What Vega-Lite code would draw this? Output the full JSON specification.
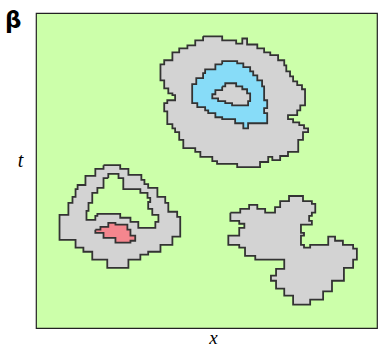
{
 "$schema": "https://vega.github.io/schema/vega-lite/v6.json",
 "width": 341, "height": 315,
 "autosize": {"type": "none"},
 "padding": {"left": 36, "top": 13, "right": 1, "bottom": 19},
 "title": {"text": "β", "anchor": "start", "frame": "group", "font": "DejaVu Sans", "fontSize": 23, "fontWeight": "bold", "color": "black", "baseline": "alphabetic", "offset": -26, "dx": -31, "dy": 12},
 "datasets": {
  "pts": [
   {"p":"A","i":1,"x":49.0,"y":7.4},{"p":"A","i":2,"x":54.6,"y":7.4},{"p":"A","i":3,"x":54.6,"y":8.7},{"p":"A","i":4,"x":58.7,"y":8.7},{"p":"A","i":5,"x":58.7,"y":9.7},{"p":"A","i":6,"x":60.5,"y":9.7},{"p":"A","i":7,"x":60.5,"y":8.1},{"p":"A","i":8,"x":61.9,"y":8.1},{"p":"A","i":9,"x":61.9,"y":10.0},{"p":"A","i":10,"x":64.9,"y":10.0},
   {"p":"A","i":11,"x":64.9,"y":11.2},{"p":"A","i":12,"x":66.9,"y":11.2},{"p":"A","i":13,"x":66.9,"y":12.5},{"p":"A","i":14,"x":68.7,"y":12.5},{"p":"A","i":15,"x":68.7,"y":13.4},{"p":"A","i":16,"x":71.0,"y":13.4},{"p":"A","i":17,"x":71.0,"y":15.0},{"p":"A","i":18,"x":72.8,"y":15.0},{"p":"A","i":19,"x":72.8,"y":16.6},{"p":"A","i":20,"x":73.4,"y":16.6},
   {"p":"A","i":21,"x":73.4,"y":18.5},{"p":"A","i":22,"x":74.5,"y":18.5},{"p":"A","i":23,"x":74.5,"y":20.1},{"p":"A","i":24,"x":75.4,"y":20.1},{"p":"A","i":25,"x":75.4,"y":21.7},{"p":"A","i":26,"x":76.6,"y":21.7},{"p":"A","i":27,"x":76.6,"y":22.9},{"p":"A","i":28,"x":78.0,"y":22.9},{"p":"A","i":29,"x":78.0,"y":24.2},{"p":"A","i":30,"x":78.9,"y":24.2},
   {"p":"A","i":31,"x":78.9,"y":29.3},{"p":"A","i":32,"x":77.5,"y":29.3},{"p":"A","i":33,"x":77.5,"y":30.9},{"p":"A","i":34,"x":76.6,"y":30.9},{"p":"A","i":35,"x":76.6,"y":32.4},{"p":"A","i":36,"x":73.9,"y":32.4},{"p":"A","i":37,"x":73.9,"y":33.7},{"p":"A","i":38,"x":75.4,"y":33.7},{"p":"A","i":39,"x":75.4,"y":34.7},{"p":"A","i":40,"x":77.2,"y":34.7},
   {"p":"A","i":41,"x":77.2,"y":35.6},{"p":"A","i":42,"x":78.6,"y":35.6},{"p":"A","i":43,"x":78.6,"y":36.6},{"p":"A","i":44,"x":79.8,"y":36.6},{"p":"A","i":45,"x":79.8,"y":37.8},{"p":"A","i":46,"x":78.3,"y":37.8},{"p":"A","i":47,"x":78.3,"y":40.3},{"p":"A","i":48,"x":76.9,"y":40.3},{"p":"A","i":49,"x":76.9,"y":44.1},{"p":"A","i":50,"x":73.9,"y":44.1},
   {"p":"A","i":51,"x":73.9,"y":45.4},{"p":"A","i":52,"x":71.6,"y":45.4},{"p":"A","i":53,"x":71.6,"y":46.7},{"p":"A","i":54,"x":69.3,"y":46.7},{"p":"A","i":55,"x":69.3,"y":45.7},{"p":"A","i":56,"x":68.1,"y":45.7},{"p":"A","i":57,"x":68.1,"y":47.3},{"p":"A","i":58,"x":65.7,"y":47.3},{"p":"A","i":59,"x":65.7,"y":48.9},{"p":"A","i":60,"x":59.0,"y":48.9},
   {"p":"A","i":61,"x":59.0,"y":47.9},{"p":"A","i":62,"x":53.1,"y":47.9},{"p":"A","i":63,"x":53.1,"y":47.0},{"p":"A","i":64,"x":51.7,"y":47.0},{"p":"A","i":65,"x":51.7,"y":45.7},{"p":"A","i":66,"x":48.2,"y":45.7},{"p":"A","i":67,"x":48.2,"y":44.1},{"p":"A","i":68,"x":46.7,"y":44.1},{"p":"A","i":69,"x":46.7,"y":42.9},{"p":"A","i":70,"x":43.2,"y":42.9},
   {"p":"A","i":71,"x":43.2,"y":40.3},{"p":"A","i":72,"x":42.0,"y":40.3},{"p":"A","i":73,"x":42.0,"y":37.8},{"p":"A","i":74,"x":40.8,"y":37.8},{"p":"A","i":75,"x":40.8,"y":36.6},{"p":"A","i":76,"x":40.0,"y":36.6},{"p":"A","i":77,"x":40.0,"y":35.3},{"p":"A","i":78,"x":38.5,"y":35.3},{"p":"A","i":79,"x":38.5,"y":31.2},{"p":"A","i":80,"x":37.6,"y":31.2},
   {"p":"A","i":81,"x":37.6,"y":28.6},{"p":"A","i":82,"x":38.5,"y":28.6},{"p":"A","i":83,"x":38.5,"y":27.7},{"p":"A","i":84,"x":40.8,"y":27.7},{"p":"A","i":85,"x":40.8,"y":26.1},{"p":"A","i":86,"x":40.0,"y":26.1},{"p":"A","i":87,"x":40.0,"y":25.5},{"p":"A","i":88,"x":38.8,"y":25.5},{"p":"A","i":89,"x":38.8,"y":23.9},{"p":"A","i":90,"x":37.6,"y":23.9},
   {"p":"A","i":91,"x":37.6,"y":21.4},{"p":"A","i":92,"x":36.5,"y":21.4},{"p":"A","i":93,"x":36.5,"y":16.3},{"p":"A","i":94,"x":37.6,"y":16.3},{"p":"A","i":95,"x":37.6,"y":15.0},{"p":"A","i":96,"x":40.0,"y":15.0},{"p":"A","i":97,"x":40.0,"y":12.5},{"p":"A","i":98,"x":42.0,"y":12.5},{"p":"A","i":99,"x":42.0,"y":11.2},{"p":"A","i":100,"x":44.4,"y":11.2},
   {"p":"A","i":101,"x":44.4,"y":10.3},{"p":"A","i":102,"x":46.7,"y":10.3},{"p":"A","i":103,"x":46.7,"y":8.7},{"p":"A","i":104,"x":49.0,"y":8.7},{"p":"A","i":105,"x":49.0,"y":7.4},

   {"p":"B","i":1,"x":19.8,"y":48.3},{"p":"B","i":2,"x":24.7,"y":48.3},{"p":"B","i":3,"x":24.7,"y":49.5},{"p":"B","i":4,"x":27.1,"y":49.5},{"p":"B","i":5,"x":27.1,"y":51.4},{"p":"B","i":6,"x":30.9,"y":51.4},{"p":"B","i":7,"x":30.9,"y":53.0},{"p":"B","i":8,"x":31.8,"y":53.0},{"p":"B","i":9,"x":31.8,"y":54.3},{"p":"B","i":10,"x":32.9,"y":54.3},
   {"p":"B","i":11,"x":32.9,"y":55.5},{"p":"B","i":12,"x":35.6,"y":55.5},{"p":"B","i":13,"x":35.6,"y":58.4},{"p":"B","i":14,"x":37.9,"y":58.4},{"p":"B","i":15,"x":37.9,"y":60.3},{"p":"B","i":16,"x":38.8,"y":60.3},{"p":"B","i":17,"x":38.8,"y":63.1},{"p":"B","i":18,"x":41.4,"y":63.1},{"p":"B","i":19,"x":41.4,"y":64.7},{"p":"B","i":20,"x":42.3,"y":64.7},
   {"p":"B","i":21,"x":42.3,"y":71.0},{"p":"B","i":22,"x":40.0,"y":71.0},{"p":"B","i":23,"x":40.0,"y":73.6},{"p":"B","i":24,"x":36.5,"y":73.6},{"p":"B","i":25,"x":36.5,"y":75.8},{"p":"B","i":26,"x":32.9,"y":75.8},{"p":"B","i":27,"x":32.9,"y":76.7},{"p":"B","i":28,"x":30.6,"y":76.7},{"p":"B","i":29,"x":30.6,"y":78.3},{"p":"B","i":30,"x":27.1,"y":78.3},
   {"p":"B","i":31,"x":27.1,"y":80.9},{"p":"B","i":32,"x":20.9,"y":80.9},{"p":"B","i":33,"x":20.9,"y":78.3},{"p":"B","i":34,"x":16.5,"y":78.3},{"p":"B","i":35,"x":16.5,"y":75.8},{"p":"B","i":36,"x":13.9,"y":75.8},{"p":"B","i":37,"x":13.9,"y":74.5},{"p":"B","i":38,"x":11.6,"y":74.5},{"p":"B","i":39,"x":11.6,"y":72.0},{"p":"B","i":40,"x":6.9,"y":72.0},
   {"p":"B","i":41,"x":6.9,"y":64.1},{"p":"B","i":42,"x":9.5,"y":64.1},{"p":"B","i":43,"x":9.5,"y":60.3},{"p":"B","i":44,"x":10.7,"y":60.3},{"p":"B","i":45,"x":10.7,"y":58.4},{"p":"B","i":46,"x":11.6,"y":58.4},{"p":"B","i":47,"x":11.6,"y":55.9},{"p":"B","i":48,"x":12.2,"y":55.9},{"p":"B","i":49,"x":12.2,"y":54.6},{"p":"B","i":50,"x":14.5,"y":54.6},
   {"p":"B","i":51,"x":14.5,"y":51.7},{"p":"B","i":52,"x":17.4,"y":51.7},{"p":"B","i":53,"x":17.4,"y":49.5},{"p":"B","i":54,"x":19.8,"y":49.5},{"p":"B","i":55,"x":19.8,"y":48.3},

   {"p":"C","i":1,"x":57.0,"y":63.4},{"p":"C","i":2,"x":59.9,"y":63.4},{"p":"C","i":3,"x":59.9,"y":62.2},{"p":"C","i":4,"x":62.5,"y":62.2},{"p":"C","i":5,"x":62.5,"y":60.9},{"p":"C","i":6,"x":64.9,"y":60.9},{"p":"C","i":7,"x":64.9,"y":62.2},{"p":"C","i":8,"x":67.2,"y":62.2},{"p":"C","i":9,"x":67.2,"y":63.4},{"p":"C","i":10,"x":70.1,"y":63.4},
   {"p":"C","i":11,"x":70.1,"y":61.6},{"p":"C","i":12,"x":71.6,"y":61.6},{"p":"C","i":13,"x":71.6,"y":59.7},{"p":"C","i":14,"x":74.2,"y":59.7},{"p":"C","i":15,"x":74.2,"y":58.1},{"p":"C","i":16,"x":78.3,"y":58.1},{"p":"C","i":17,"x":78.3,"y":59.7},{"p":"C","i":18,"x":80.9,"y":59.7},{"p":"C","i":19,"x":80.9,"y":60.6},{"p":"C","i":20,"x":81.9,"y":60.6},
   {"p":"C","i":21,"x":81.9,"y":63.4},{"p":"C","i":22,"x":80.9,"y":63.4},{"p":"C","i":23,"x":80.9,"y":64.4},{"p":"C","i":24,"x":80.1,"y":64.4},{"p":"C","i":25,"x":80.1,"y":66.0},{"p":"C","i":26,"x":80.9,"y":66.0},{"p":"C","i":27,"x":80.9,"y":67.2},{"p":"C","i":28,"x":77.7,"y":67.2},{"p":"C","i":29,"x":77.7,"y":69.8},{"p":"C","i":30,"x":78.6,"y":69.8},
   {"p":"C","i":31,"x":78.6,"y":70.7},{"p":"C","i":32,"x":77.7,"y":70.7},{"p":"C","i":33,"x":77.7,"y":73.6},{"p":"C","i":34,"x":78.6,"y":73.6},{"p":"C","i":35,"x":78.6,"y":74.5},{"p":"C","i":36,"x":80.4,"y":74.5},{"p":"C","i":37,"x":80.4,"y":73.6},{"p":"C","i":38,"x":85.7,"y":73.6},{"p":"C","i":39,"x":85.7,"y":71.0},{"p":"C","i":40,"x":87.7,"y":71.0},
   {"p":"C","i":41,"x":87.7,"y":72.3},{"p":"C","i":42,"x":90.0,"y":72.3},{"p":"C","i":43,"x":90.0,"y":73.6},{"p":"C","i":44,"x":93.0,"y":73.6},{"p":"C","i":45,"x":93.0,"y":74.8},{"p":"C","i":46,"x":94.1,"y":74.8},{"p":"C","i":47,"x":94.1,"y":78.3},{"p":"C","i":48,"x":93.0,"y":78.3},{"p":"C","i":49,"x":93.0,"y":80.9},{"p":"C","i":50,"x":90.3,"y":80.9},
   {"p":"C","i":51,"x":90.3,"y":85.0},{"p":"C","i":52,"x":86.8,"y":85.0},{"p":"C","i":53,"x":86.8,"y":88.4},{"p":"C","i":54,"x":84.2,"y":88.4},{"p":"C","i":55,"x":84.2,"y":91.0},{"p":"C","i":56,"x":80.4,"y":91.0},{"p":"C","i":57,"x":80.4,"y":92.6},{"p":"C","i":58,"x":75.4,"y":92.6},{"p":"C","i":59,"x":75.4,"y":89.7},{"p":"C","i":60,"x":72.8,"y":89.7},
   {"p":"C","i":61,"x":72.8,"y":87.5},{"p":"C","i":62,"x":70.4,"y":87.5},{"p":"C","i":63,"x":70.4,"y":85.0},{"p":"C","i":64,"x":68.9,"y":85.0},{"p":"C","i":65,"x":68.9,"y":83.4},{"p":"C","i":66,"x":70.4,"y":83.4},{"p":"C","i":67,"x":70.4,"y":81.2},{"p":"C","i":68,"x":72.8,"y":81.2},{"p":"C","i":69,"x":72.8,"y":78.3},{"p":"C","i":70,"x":64.3,"y":78.3},
   {"p":"C","i":71,"x":64.3,"y":77.1},{"p":"C","i":72,"x":61.3,"y":77.1},{"p":"C","i":73,"x":61.3,"y":74.5},{"p":"C","i":74,"x":59.6,"y":74.5},{"p":"C","i":75,"x":59.6,"y":73.6},{"p":"C","i":76,"x":56.4,"y":73.6},{"p":"C","i":77,"x":56.4,"y":70.7},{"p":"C","i":78,"x":59.6,"y":70.7},{"p":"C","i":79,"x":59.6,"y":68.2},{"p":"C","i":80,"x":61.1,"y":68.2},
   {"p":"C","i":81,"x":61.1,"y":66.9},{"p":"C","i":82,"x":59.6,"y":66.9},{"p":"C","i":83,"x":59.6,"y":66.0},{"p":"C","i":84,"x":57.0,"y":66.0},{"p":"C","i":85,"x":57.0,"y":63.4},

   {"p":"Blue","i":1,"x":54.6,"y":16.3},{"p":"Blue","i":2,"x":54.6,"y":15.3},{"p":"Blue","i":3,"x":59.0,"y":15.3},{"p":"Blue","i":4,"x":59.0,"y":16.0},{"p":"Blue","i":5,"x":60.8,"y":16.0},{"p":"Blue","i":6,"x":60.8,"y":17.2},{"p":"Blue","i":7,"x":62.8,"y":17.2},{"p":"Blue","i":8,"x":62.8,"y":18.5},{"p":"Blue","i":9,"x":63.7,"y":18.5},{"p":"Blue","i":10,"x":63.7,"y":19.8},
   {"p":"Blue","i":11,"x":64.9,"y":19.8},{"p":"Blue","i":12,"x":64.9,"y":21.4},{"p":"Blue","i":13,"x":66.3,"y":21.4},{"p":"Blue","i":14,"x":66.3,"y":23.3},{"p":"Blue","i":15,"x":66.9,"y":23.3},{"p":"Blue","i":16,"x":66.9,"y":27.7},{"p":"Blue","i":17,"x":67.8,"y":27.7},{"p":"Blue","i":18,"x":67.8,"y":30.2},{"p":"Blue","i":19,"x":66.9,"y":30.2},{"p":"Blue","i":20,"x":66.9,"y":31.8},
   {"p":"Blue","i":21,"x":67.8,"y":31.8},{"p":"Blue","i":22,"x":67.8,"y":35.0},{"p":"Blue","i":23,"x":62.2,"y":35.0},{"p":"Blue","i":24,"x":62.2,"y":36.6},{"p":"Blue","i":25,"x":60.8,"y":36.6},{"p":"Blue","i":26,"x":60.8,"y":35.0},{"p":"Blue","i":27,"x":58.4,"y":35.0},{"p":"Blue","i":28,"x":58.4,"y":33.7},{"p":"Blue","i":29,"x":54.6,"y":33.7},{"p":"Blue","i":30,"x":54.6,"y":33.1},
   {"p":"Blue","i":31,"x":52.6,"y":33.1},{"p":"Blue","i":32,"x":52.6,"y":31.8},{"p":"Blue","i":33,"x":50.5,"y":31.8},{"p":"Blue","i":34,"x":50.5,"y":30.9},{"p":"Blue","i":35,"x":49.6,"y":30.9},{"p":"Blue","i":36,"x":49.6,"y":29.9},{"p":"Blue","i":37,"x":47.3,"y":29.9},{"p":"Blue","i":38,"x":47.3,"y":28.6},{"p":"Blue","i":39,"x":45.8,"y":28.6},{"p":"Blue","i":40,"x":45.8,"y":22.6},
   {"p":"Blue","i":41,"x":47.0,"y":22.6},{"p":"Blue","i":42,"x":47.0,"y":20.7},{"p":"Blue","i":43,"x":49.0,"y":20.7},{"p":"Blue","i":44,"x":49.0,"y":19.1},{"p":"Blue","i":45,"x":49.6,"y":19.1},{"p":"Blue","i":46,"x":49.6,"y":17.9},{"p":"Blue","i":47,"x":52.6,"y":17.9},{"p":"Blue","i":48,"x":52.6,"y":16.3},{"p":"Blue","i":49,"x":54.6,"y":16.3},

   {"p":"Inner","i":1,"x":54.6,"y":23.3},{"p":"Inner","i":2,"x":55.5,"y":23.3},{"p":"Inner","i":3,"x":55.5,"y":22.3},{"p":"Inner","i":4,"x":58.7,"y":22.3},{"p":"Inner","i":5,"x":58.7,"y":23.3},{"p":"Inner","i":6,"x":60.5,"y":23.3},{"p":"Inner","i":7,"x":60.5,"y":24.2},{"p":"Inner","i":8,"x":61.9,"y":24.2},{"p":"Inner","i":9,"x":61.9,"y":25.5},{"p":"Inner","i":10,"x":62.8,"y":25.5},
   {"p":"Inner","i":11,"x":62.8,"y":28.0},{"p":"Inner","i":12,"x":62.2,"y":28.0},{"p":"Inner","i":13,"x":62.2,"y":29.3},{"p":"Inner","i":14,"x":57.5,"y":29.3},{"p":"Inner","i":15,"x":57.5,"y":28.6},{"p":"Inner","i":16,"x":55.5,"y":28.6},{"p":"Inner","i":17,"x":55.5,"y":28.0},{"p":"Inner","i":18,"x":53.4,"y":28.0},{"p":"Inner","i":19,"x":53.4,"y":27.1},{"p":"Inner","i":20,"x":51.7,"y":27.1},
   {"p":"Inner","i":21,"x":51.7,"y":25.8},{"p":"Inner","i":22,"x":52.6,"y":25.8},{"p":"Inner","i":23,"x":52.6,"y":24.5},{"p":"Inner","i":24,"x":54.6,"y":24.5},{"p":"Inner","i":25,"x":54.6,"y":23.3},

   {"p":"Hole","i":1,"x":21.2,"y":52.4},{"p":"Hole","i":2,"x":21.2,"y":51.1},{"p":"Hole","i":3,"x":24.2,"y":51.1},{"p":"Hole","i":4,"x":24.2,"y":52.4},{"p":"Hole","i":5,"x":25.6,"y":52.4},{"p":"Hole","i":6,"x":25.6,"y":55.9},{"p":"Hole","i":7,"x":30.6,"y":55.9},{"p":"Hole","i":8,"x":30.6,"y":57.1},{"p":"Hole","i":9,"x":32.7,"y":57.1},{"p":"Hole","i":10,"x":32.7,"y":58.7},
   {"p":"Hole","i":11,"x":33.5,"y":58.7},{"p":"Hole","i":12,"x":33.5,"y":60.0},{"p":"Hole","i":13,"x":32.9,"y":60.0},{"p":"Hole","i":14,"x":32.9,"y":62.2},{"p":"Hole","i":15,"x":34.1,"y":62.2},{"p":"Hole","i":16,"x":34.1,"y":64.1},{"p":"Hole","i":17,"x":35.9,"y":64.1},{"p":"Hole","i":18,"x":35.9,"y":66.3},{"p":"Hole","i":19,"x":35.0,"y":66.3},{"p":"Hole","i":20,"x":35.0,"y":68.2},
   {"p":"Hole","i":21,"x":30.0,"y":68.2},{"p":"Hole","i":22,"x":30.0,"y":66.3},{"p":"Hole","i":23,"x":27.7,"y":66.3},{"p":"Hole","i":24,"x":27.7,"y":65.0},{"p":"Hole","i":25,"x":24.7,"y":65.0},{"p":"Hole","i":26,"x":24.7,"y":63.8},{"p":"Hole","i":27,"x":18.0,"y":63.8},{"p":"Hole","i":28,"x":18.0,"y":64.4},{"p":"Hole","i":29,"x":17.4,"y":64.4},{"p":"Hole","i":30,"x":17.4,"y":65.7},
   {"p":"Hole","i":31,"x":14.8,"y":65.7},{"p":"Hole","i":32,"x":14.8,"y":62.8},{"p":"Hole","i":33,"x":15.4,"y":62.8},{"p":"Hole","i":34,"x":15.4,"y":60.3},{"p":"Hole","i":35,"x":16.5,"y":60.3},{"p":"Hole","i":36,"x":16.5,"y":57.1},{"p":"Hole","i":37,"x":18.0,"y":57.1},{"p":"Hole","i":38,"x":18.0,"y":55.5},{"p":"Hole","i":39,"x":19.8,"y":55.5},{"p":"Hole","i":40,"x":19.8,"y":52.4},
   {"p":"Hole","i":41,"x":21.2,"y":52.4},

   {"p":"Red","i":1,"x":17.4,"y":68.8},{"p":"Red","i":2,"x":18.9,"y":68.8},{"p":"Red","i":3,"x":18.9,"y":67.9},{"p":"Red","i":4,"x":21.2,"y":67.9},{"p":"Red","i":5,"x":21.2,"y":66.6},{"p":"Red","i":6,"x":23.3,"y":66.6},{"p":"Red","i":7,"x":23.3,"y":67.2},{"p":"Red","i":8,"x":26.8,"y":67.2},{"p":"Red","i":9,"x":26.8,"y":68.8},{"p":"Red","i":10,"x":27.7,"y":68.8},
   {"p":"Red","i":11,"x":27.7,"y":70.7},{"p":"Red","i":12,"x":29.1,"y":70.7},{"p":"Red","i":13,"x":29.1,"y":72.3},{"p":"Red","i":14,"x":27.7,"y":72.3},{"p":"Red","i":15,"x":27.7,"y":72.9},{"p":"Red","i":16,"x":23.3,"y":72.9},{"p":"Red","i":17,"x":23.3,"y":71.4},{"p":"Red","i":18,"x":19.8,"y":71.4},{"p":"Red","i":19,"x":19.8,"y":69.8},{"p":"Red","i":20,"x":17.4,"y":69.8},
   {"p":"Red","i":21,"x":17.4,"y":68.8}
  ]
 },
 "data": {"name": "pts"},
 "encoding": {
  "x": {"field": "x", "type": "quantitative", "scale": {"domain": [0, 100], "nice": false, "zero": false},
        "axis": {"title": "x", "labels": false, "ticks": false, "domain": false, "grid": false, "titleFont": "Liberation Serif", "titleFontStyle": "italic", "titleFontWeight": "normal", "titleFontSize": 19, "titleColor": "black", "titleX": 177, "titleY": 9, "titleBaseline": "middle"}},
  "y": {"field": "y", "type": "quantitative", "scale": {"domain": [0, 100], "nice": false, "zero": false, "reverse": true},
        "axis": {"title": "t", "labels": false, "ticks": false, "domain": false, "grid": false, "titleFont": "Liberation Serif", "titleFontStyle": "italic", "titleFontWeight": "normal", "titleFontSize": 20, "titleColor": "black", "titleAngle": 0, "titleX": -16, "titleY": 147, "titleAlign": "center", "titleBaseline": "middle"}},
  "order": {"field": "i", "type": "quantitative"},
  "detail": {"field": "p", "type": "nominal"}
 },
 "layer": [
  {"transform": [{"filter": {"field": "p", "oneOf": ["A", "B", "C"]}}], "mark": {"type": "line", "fill": "#d3d3d3", "stroke": "#333333", "strokeWidth": 1.8, "strokeJoin": "miter", "interpolate": "linear"}},
  {"transform": [{"filter": {"field": "p", "equal": "Blue"}}], "mark": {"type": "line", "fill": "#87dcf8", "stroke": "#333333", "strokeWidth": 1.8, "strokeJoin": "miter", "interpolate": "linear"}},
  {"transform": [{"filter": {"field": "p", "equal": "Inner"}}], "mark": {"type": "line", "fill": "#d3d3d3", "stroke": "#333333", "strokeWidth": 1.8, "strokeJoin": "miter", "interpolate": "linear"}},
  {"transform": [{"filter": {"field": "p", "equal": "Hole"}}], "mark": {"type": "line", "fill": "#ccffaa", "stroke": "#333333", "strokeWidth": 1.8, "strokeJoin": "miter", "interpolate": "linear"}},
  {"transform": [{"filter": {"field": "p", "equal": "Red"}}], "mark": {"type": "line", "fill": "#f4868e", "stroke": "#333333", "strokeWidth": 1.8, "strokeJoin": "miter", "interpolate": "linear"}}
 ],
 "config": {"view": {"fill": "#ccffaa", "stroke": "#222222", "strokeWidth": 1.2}}
}
